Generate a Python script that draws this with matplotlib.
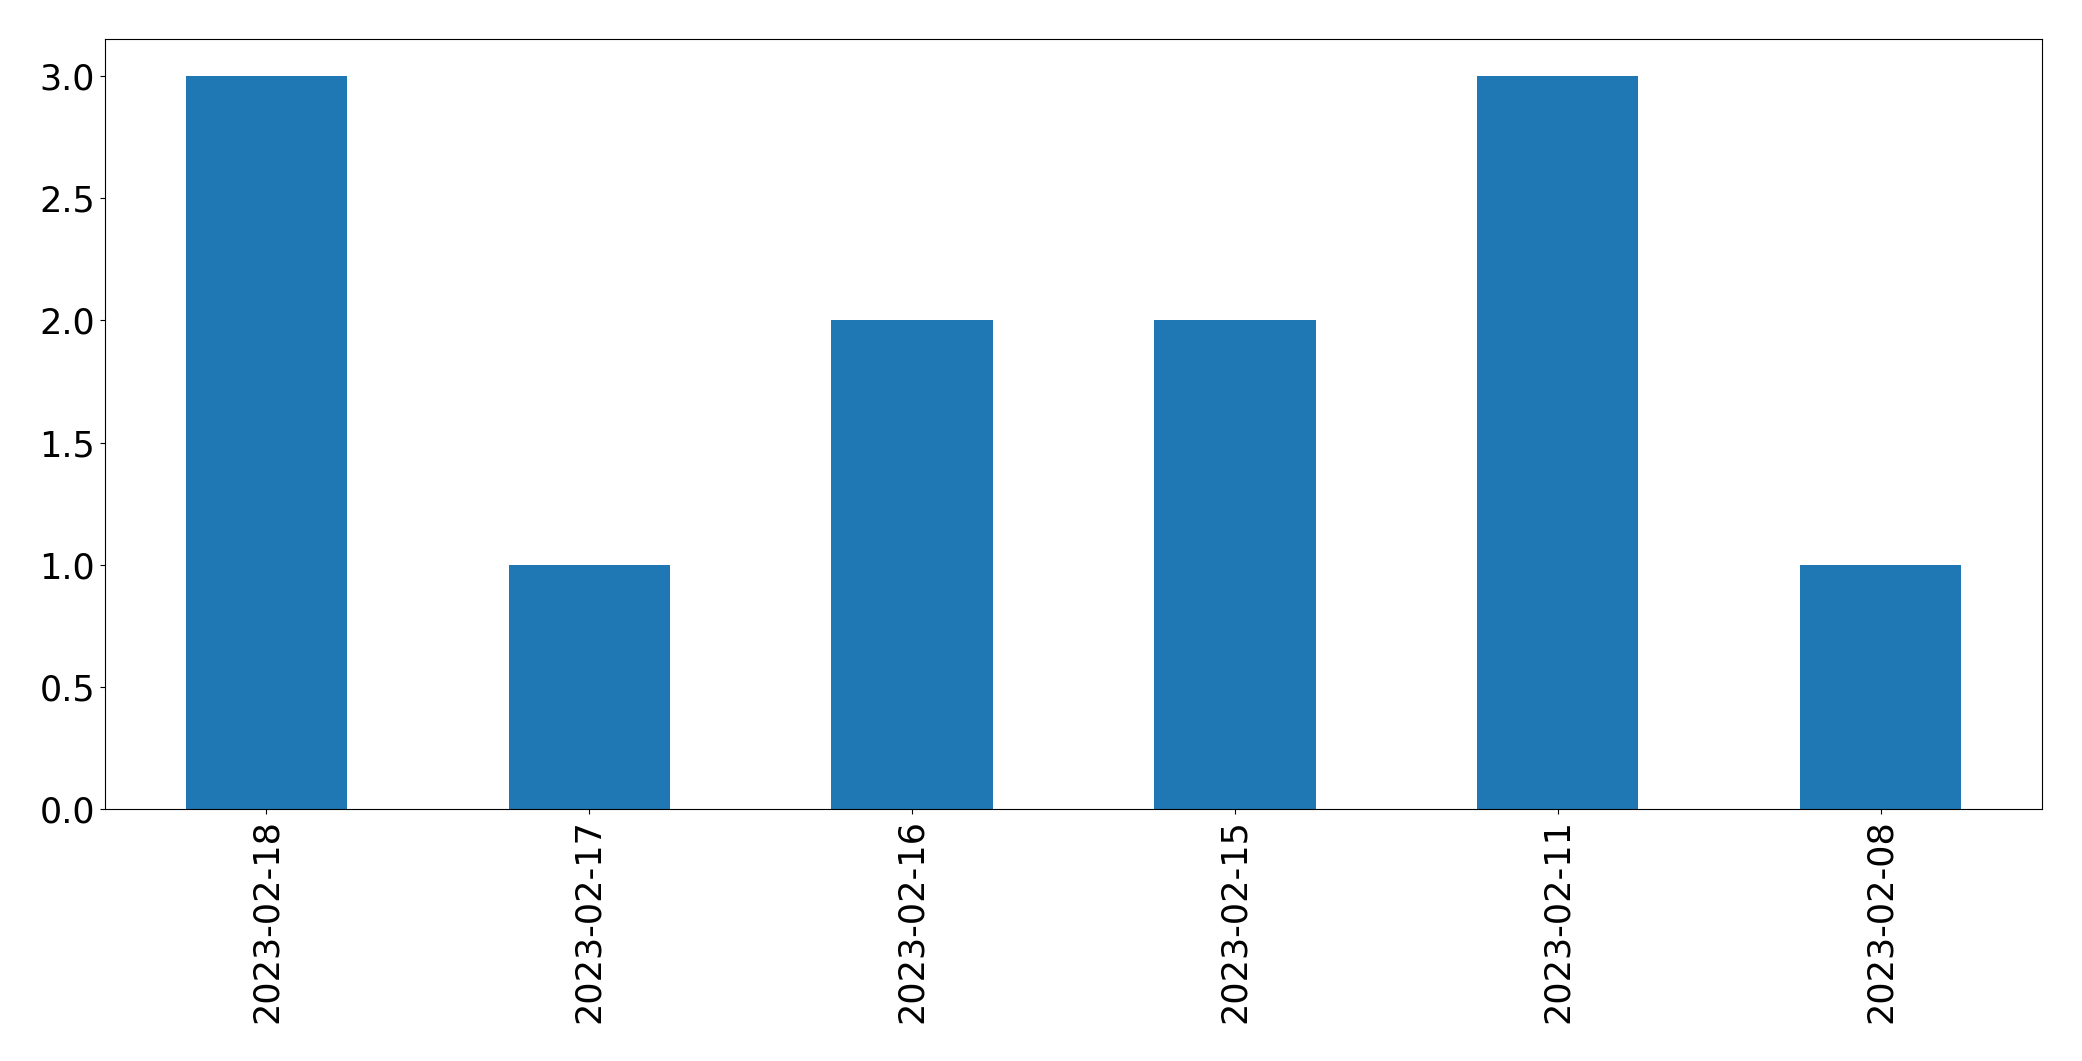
import matplotlib
matplotlib.use("Agg")
import matplotlib.pyplot as plt
import pandas as pd

dates = ["2023-02-18", "2023-02-17", "2023-02-16", "2023-02-15", "2023-02-11", "2023-02-08"]
counts = [3, 1, 2, 2, 3, 1]

s = pd.Series(counts, index=dates)

fig = plt.figure(figsize=(20.82, 10.61), dpi=100)
ax = fig.add_axes([105/2082, 1 - 809.3/1061, (2042 - 105)/2082, (809.3 - 39.3)/1061])
s.plot(kind="bar", ax=ax, color="#1f77b4", width=0.5)
ax.tick_params(axis="both", labelsize=25.2)
fig.savefig("out.png", dpi=100)
